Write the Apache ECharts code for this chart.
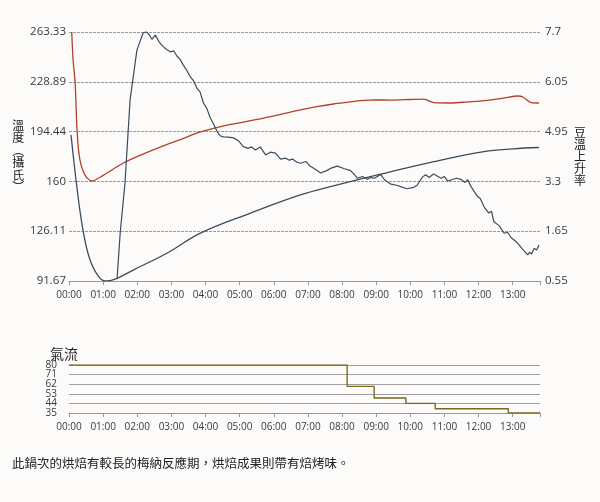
<!DOCTYPE html>
<html>
<head>
<meta charset="utf-8">
<script src="https://cdn.jsdelivr.net/npm/echarts@6/dist/echarts.min.js"></script>
<style>
  html, body { margin: 0; padding: 0; background: #fcfbfa; }
  #chart { width: 600px; height: 502px; }
</style>
</head>
<body>
<div id="chart"></div>
<script>
// 溫度軸刻度（左）與升溫率軸刻度（右）
const tempTicks = ['91.67', '126.11', '160', '194.44', '228.89', '263.33']
const rorTicks = ['0.55', '1.65', '3.3', '4.95', '6.05', '7.7']
const airTicks = ['35', '44', '53', '62', '71', '80']

// 紅線（爐溫）
const envTime = [0.08, 0.12, 0.18, 0.24, 0.32, 0.47, 0.67, 1.0, 1.59, 2.2, 2.67, 3.3, 3.85, 4.6, 5.6, 6.2, 6.78, 7.3, 7.75, 8.2, 8.55, 9.0, 9.43, 10.0, 10.4, 10.69, 11.19, 11.7, 12.16, 12.7, 13.16, 13.3, 13.54, 13.77]
const envTemp = [263.3, 244, 228.2, 193.7, 175.1, 164.7, 160.6, 164.5, 173, 179.5, 184, 189.5, 194.4, 199, 203.4, 206.5, 209.6, 212, 213.7, 215, 216, 216.5, 216.4, 216.8, 217.1, 214.6, 214.4, 215.2, 216, 217.6, 219.2, 218.5, 214.6, 214.4]

// 藍線（豆溫）
const beanTime = [0.06, 0.23, 0.41, 0.62, 0.91, 1.12, 1.41, 1.88, 2.88, 3.85, 5.32, 6.78, 7.75, 9.13, 10.69, 12.16, 13.0, 13.77]
const beanTemp = [192.3, 156.7, 126.8, 106, 93.5, 91.7, 93.5, 99.2, 111, 124.7, 138.5, 151, 157.2, 165.3, 174, 180.9, 182.8, 183.7]

// 升溫率
const rorTime = [1.41, 1.5, 1.64, 1.79, 1.99, 2.17, 2.26, 2.35, 2.43, 2.53, 2.65, 2.76, 2.86, 2.97, 3.07, 3.16, 3.25, 3.35, 3.45, 3.55, 3.65, 3.75, 3.84, 3.94, 4.04, 4.14, 4.24, 4.34, 4.43, 4.52, 4.67, 4.82, 4.96, 5.11, 5.25, 5.35, 5.46, 5.6, 5.76, 5.9, 6.05, 6.2, 6.34, 6.45, 6.55, 6.68, 6.78, 6.95, 7.05, 7.17, 7.27, 7.37, 7.55, 7.7, 7.86, 8.05, 8.25, 8.35, 8.45, 8.6, 8.74, 8.85, 8.95, 9.13, 9.25, 9.43, 9.6, 9.72, 9.9, 10.1, 10.2, 10.36, 10.45, 10.55, 10.68, 10.8, 10.9, 11.0, 11.1, 11.19, 11.35, 11.48, 11.6, 11.68, 11.78, 11.95, 12.05, 12.16, 12.3, 12.38, 12.45, 12.6, 12.75, 12.85, 12.95, 13.05, 13.15, 13.3, 13.44, 13.5, 13.55, 13.63, 13.7, 13.77]
const ror = [0.64, 1.93, 3.36, 5.75, 7.18, 7.67, 7.71, 7.62, 7.49, 7.61, 7.4, 7.28, 7.2, 7.13, 7.16, 7.01, 6.92, 6.75, 6.6, 6.42, 6.3, 6.08, 5.98, 5.66, 5.5, 5.23, 5.05, 4.84, 4.72, 4.69, 4.68, 4.66, 4.58, 4.41, 4.36, 4.4, 4.31, 4.4, 4.17, 4.25, 4.22, 4.05, 4.08, 4.02, 4.05, 3.96, 3.93, 3.98, 3.86, 3.79, 3.72, 3.65, 3.72, 3.8, 3.85, 3.78, 3.72, 3.62, 3.5, 3.55, 3.47, 3.52, 3.5, 3.61, 3.45, 3.33, 3.3, 3.26, 3.2, 3.24, 3.3, 3.54, 3.6, 3.52, 3.62, 3.56, 3.5, 3.55, 3.42, 3.45, 3.5, 3.47, 3.38, 3.46, 3.26, 3.0, 2.92, 2.68, 2.5, 2.55, 2.25, 2.14, 1.92, 1.95, 1.8, 1.72, 1.63, 1.45, 1.3, 1.38, 1.32, 1.49, 1.44, 1.58]

// 氣流
const airTime = [0, 8.15, 8.94, 9.87, 10.73, 12.87, 13.8]
const airValue = [80, 60, 49, 44, 39, 35, 35]

const caption = '此鍋次的烘焙有較長的梅納反應期，烘焙成果則帶有焙烤味。'

const zip = (xs, ys) => xs.map((x, i) => [x, ys[i]])
const fmtTime = v => (Math.abs(v - Math.round(v)) < 1e-6 ? String(Math.round(v)).padStart(2, '0') + ':00' : '')
const tickFmt = (labels, min, max) => v => labels[Math.round((v - min) / ((max - min) / 5))] || ''
// 氣流刻度太密，分成兩組（奇數／偶數）各畫一次，避免被自動隱藏
const airFmt = parity => v => {
  const i = Math.round((v - 35) / 9)
  return i % 2 === parity ? (airTicks[i] || '') : ''
}

const tMin = 91.67
const tMax = 263.33
const rMin = 0.55
const rMax = 7.7

const labelFont = { color: '#3a3a3a', fontFamily: 'Open Sans, Noto Sans, sans-serif' }
const cjk = 'Noto Sans CJK TC, sans-serif'

const xAxisBase = {
  type: 'value',
  min: 0,
  max: 13.8,
  interval: 1,
  axisLine: { lineStyle: { color: '#999', width: 1 } },
  axisTick: { length: 4, lineStyle: { color: '#999' } },
  axisLabel: Object.assign({ fontSize: 10, margin: 9, formatter: fmtTime }, labelFont),
  splitLine: { show: false }
}

const airAxis = (parity, grid) => ({
  gridIndex: 1,
  type: 'value',
  position: 'left',
  offset: 0,
  min: 35,
  max: 80,
  interval: 9,
  axisLine: { show: false },
  axisTick: { show: false },
  axisLabel: Object.assign({ fontSize: 10, margin: 12, showMinLabel: true, showMaxLabel: true, formatter: airFmt(parity) }, labelFont),
  splitLine: { show: grid, lineStyle: { color: '#a0a0a0', width: 1 } }
})

const chart = echarts.init(document.getElementById('chart'))
chart.setOption({
  backgroundColor: '#fcfbfa',
  animation: false,
  title: {
    text: '氣流',
    left: 45,
    top: 342,
    textStyle: { fontFamily: cjk, fontSize: 14, fontWeight: 'normal', color: '#222' }
  },
  grid: [
    { left: 69, right: 60, top: 32, height: 249 },
    { left: 69, right: 60, top: 365, height: 48 }
  ],
  xAxis: [
    Object.assign({ gridIndex: 0 }, xAxisBase),
    Object.assign({ gridIndex: 1 }, xAxisBase)
  ],
  yAxis: [
    {
      gridIndex: 0,
      type: 'value',
      min: tMin,
      max: tMax,
      interval: (tMax - tMin) / 5,
      name: ['溫', '度', '︵', '攝', '氏', '︶'].join('\n'),
      nameLocation: 'middle',
      nameRotate: 0,
      nameGap: 39,
      nameTextStyle: { fontFamily: cjk, fontSize: 12, lineHeight: 12.5, color: '#222' },
      axisLine: { show: false },
      axisTick: { show: false },
      axisLabel: Object.assign({ fontSize: 11.5, margin: 3, formatter: tickFmt(tempTicks, tMin, tMax) }, labelFont),
      splitLine: { lineStyle: { color: '#9a9a9a', type: [3, 1], width: 1 } }
    },
    {
      gridIndex: 0,
      type: 'value',
      position: 'right',
      min: rMin,
      max: rMax,
      interval: (rMax - rMin) / 5,
      name: '豆溫上升率'.split('').join('\n'),
      nameLocation: 'middle',
      nameRotate: 0,
      nameGap: 34,
      nameTextStyle: { fontFamily: cjk, fontSize: 12, lineHeight: 12, color: '#222' },
      axisLine: { show: false },
      axisTick: { show: false },
      axisLabel: Object.assign({ fontSize: 11.5, margin: 5, formatter: tickFmt(rorTicks, rMin, rMax) }, labelFont),
      splitLine: { show: false }
    },
    airAxis(0, true),
    airAxis(1, false)
  ],
  graphic: [
    {
      type: 'text',
      left: 12,
      top: 457,
      style: { text: caption, fontFamily: cjk, fontSize: 12.5, fill: '#222' }
    }
  ],
  series: [
    {
      type: 'line',
      xAxisIndex: 0,
      yAxisIndex: 0,
      data: zip(envTime, envTemp),
      smooth: 0.3,
      showSymbol: false,
      lineStyle: { color: '#b0412a', width: 1.3 }
    },
    {
      type: 'line',
      xAxisIndex: 0,
      yAxisIndex: 0,
      data: zip(beanTime, beanTemp),
      smooth: 0.4,
      showSymbol: false,
      lineStyle: { color: '#3b4c5c', width: 1.3 }
    },
    {
      type: 'line',
      xAxisIndex: 0,
      yAxisIndex: 1,
      data: zip(rorTime, ror),
      showSymbol: false,
      lineStyle: { color: '#3b4c5c', width: 1.2 }
    },
    {
      type: 'line',
      xAxisIndex: 1,
      yAxisIndex: 2,
      data: zip(airTime, airValue),
      step: 'end',
      showSymbol: false,
      lineStyle: { color: '#7a6a1c', width: 1.4 }
    }
  ]
})
</script>
</body>
</html>
